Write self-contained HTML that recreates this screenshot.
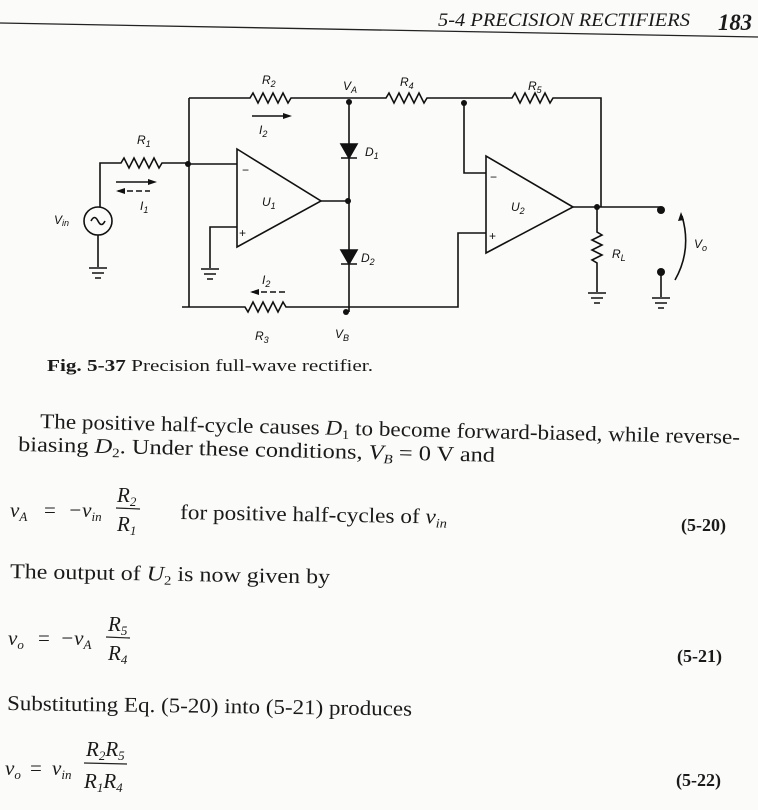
<!DOCTYPE html>
<html><head><meta charset="utf-8"><style>
html,body{margin:0;padding:0;background:#fbfbfa;}
svg{display:block}
.t{font-family:"Liberation Serif",serif;fill:#1a1a1a}
.s{font-family:"Liberation Sans",sans-serif;font-style:italic;fill:#111}
</style></head><body>
<svg width="758" height="810" viewBox="0 0 758 810" xmlns="http://www.w3.org/2000/svg">
<rect width="758" height="810" fill="#fbfbfa"/>
<!-- header -->
<line x1="0" y1="23" x2="758" y2="37" stroke="#222" stroke-width="1.3"/>
<text class="t" x="438" y="26" font-size="19" font-style="italic" textLength="252" lengthAdjust="spacingAndGlyphs">5-4  PRECISION RECTIFIERS</text>
<text class="t" x="718" y="30" font-size="23" font-style="italic" font-weight="bold" textLength="34" lengthAdjust="spacingAndGlyphs">183</text>

<g fill="none" stroke="#111" stroke-width="1.6">
<circle cx="98" cy="221" r="14"/>
<path d="M91 221 q3.5 -7 7 0 q3.5 7 7 0"/>
<path d="M100 207 V163 H121 l3 -5 l5 10 l5 -10 l5 10 l5 -10 l5 10 l5 -10 l5 10 l3 -5 H188"/>
<path d="M98 235 V267 M89 268 H107 M92 273 H104 M95 278 H101"/>
<path d="M188 164 H237 M189 98 V307 M189 98 H250 l3 -5 l5 10 l5 -10 l5 10 l5 -10 l5 10 l5 -10 l5 10 l3 -5 H386 l3 -5 l5 10 l5 -10 l5 10 l5 -10 l5 10 l5 -10 l5 10 l3 -5 H512 l3 -5 l5 10 l5 -10 l5 10 l5 -10 l5 10 l5 -10 l5 10 l3 -5 H601 V207"/>
<path d="M237 149 V247 L321 201 Z"/>
<path d="M237 227 H210 V268 M201 269 H219 M204 274 H216 M207 279 H213"/>
<path d="M321 201 H348 M349 102 V312"/>
<path d="M341 144 H357 L349 158 Z M341 158 H357" fill="#111"/>
<path d="M341 250 H357 L349 264 Z M341 264 H357" fill="#111"/>
<path d="M182 307 H245 l3 5 l5 -10 l5 10 l5 -10 l5 10 l5 -10 l5 10 l5 -10 l3 5 H458 V233 H486"/>
<path d="M464 103 V173 H486"/>
<path d="M486 156 V253 L573 207 Z"/>
<path d="M573 207 H661"/>
<path d="M597 207 V232 l5 3 l-10 5 l10 5 l-10 5 l10 5 l-10 5 l5 3 V292 M588 293 H606 M591 298 H603 M594 303 H600"/>
<path d="M661 272 V297 M652 298 H670 M655 303 H667 M658 308 H664"/>
<path d="M675 280 Q692 250 682 216"/>
<path d="M252 116 H285"/><path d="M116 182 H150"/>
<path d="M118 191 H150" stroke-dasharray="6 3"/>
<path d="M252 292 H285" stroke-dasharray="6 3"/>
</g>
<g fill="#111">
<circle cx="188" cy="164" r="3"/><circle cx="349" cy="102" r="3"/><circle cx="464" cy="103" r="3"/>
<circle cx="348" cy="201" r="3"/><circle cx="346" cy="312" r="3"/><circle cx="597" cy="207" r="3"/>
<circle cx="661" cy="210" r="4"/><circle cx="661" cy="272" r="4"/>
<path d="M292 116 l-9 -3 v6 Z"/><path d="M157 182 l-9 -3 v6 Z"/>
<path d="M116 191 l9 -3 v6 Z"/><path d="M250 292 l9 -3 v6 Z"/>
<path d="M681 212 l-3 9 l6 -1 Z"/>
</g>
<g class="s" font-size="12">
<text x="262" y="84">R<tspan font-size="9" dy="3">2</tspan></text>
<text x="343" y="90">V<tspan font-size="9" dy="3">A</tspan></text>
<text x="400" y="86">R<tspan font-size="9" dy="3">4</tspan></text>
<text x="528" y="90">R<tspan font-size="9" dy="3">5</tspan></text>
<text x="259" y="134">I<tspan font-size="9" dy="3">2</tspan></text>
<text x="137" y="144">R<tspan font-size="9" dy="3">1</tspan></text>
<text x="140" y="210">I<tspan font-size="9" dy="3">1</tspan></text>
<text x="262" y="206">U<tspan font-size="9" dy="3">1</tspan></text>
<text x="365" y="156">D<tspan font-size="9" dy="3">1</tspan></text>
<text x="361" y="262">D<tspan font-size="9" dy="3">2</tspan></text>
<text x="262" y="284">I<tspan font-size="9" dy="3">2</tspan></text>
<text x="255" y="340">R<tspan font-size="9" dy="3">3</tspan></text>
<text x="335" y="338">V<tspan font-size="9" dy="3">B</tspan></text>
<text x="511" y="211">U<tspan font-size="9" dy="3">2</tspan></text>
<text x="612" y="258">R<tspan font-size="9" dy="3">L</tspan></text>
<text x="694" y="248">V<tspan font-size="9" dy="3">o</tspan></text>
<text x="54" y="224">V<tspan font-size="9" dy="2">in</tspan></text>
<text x="242" y="174" font-style="normal">−</text>
<text x="239" y="237" font-style="normal">+</text>
<text x="490" y="181" font-style="normal">−</text>
<text x="489" y="240" font-style="normal">+</text>
</g>
<text class="t" x="47" y="371" font-size="17" textLength="326" lengthAdjust="spacingAndGlyphs"><tspan font-weight="bold">Fig. 5-37</tspan>   Precision full-wave rectifier.</text>

<g class="t" font-size="21">
<text x="40" y="428" transform="rotate(1.3 40 428)" textLength="700" lengthAdjust="spacingAndGlyphs">The positive half-cycle causes <tspan font-style="italic">D</tspan><tspan font-size="13" dy="4">1</tspan><tspan dy="-4"> to become forward-biased, while reverse-</tspan></text>
<text x="18" y="451" transform="rotate(1.3 18 451)" textLength="477" lengthAdjust="spacingAndGlyphs">biasing <tspan font-style="italic">D</tspan><tspan font-size="13" dy="4">2</tspan><tspan dy="-4">. Under these conditions, </tspan><tspan font-style="italic">V</tspan><tspan font-size="13" dy="4" font-style="italic">B</tspan><tspan dy="-4"> = 0 V and</tspan></text>

<text x="10" y="517" font-style="italic">v<tspan font-size="13" dy="4">A</tspan></text>
<text x="44" y="517">=</text>
<text x="68" y="517" font-style="italic">−v<tspan font-size="13" dy="4">in</tspan></text>
<text x="117" y="502" font-style="italic">R<tspan font-size="13" dy="4">2</tspan></text>
<line x1="116" y1="508" x2="140" y2="509" stroke="#222" stroke-width="1.2"/>
<text x="117" y="531" font-style="italic">R<tspan font-size="13" dy="4">1</tspan></text>
<text x="180" y="519" transform="rotate(1 180 519)" textLength="267" lengthAdjust="spacingAndGlyphs">for positive half-cycles of <tspan font-style="italic">v</tspan><tspan font-size="13" dy="4" font-style="italic">in</tspan></text>
<text x="681" y="531" font-size="18" font-weight="bold">(5-20)</text>

<text x="10" y="578" transform="rotate(1 10 578)" textLength="320" lengthAdjust="spacingAndGlyphs">The output of <tspan font-style="italic">U</tspan><tspan font-size="13" dy="4">2</tspan><tspan dy="-4"> is now given by</tspan></text>

<text x="8" y="645" font-style="italic">v<tspan font-size="13" dy="4">o</tspan></text>
<text x="38" y="645">=</text>
<text x="60" y="645" font-style="italic">−v<tspan font-size="13" dy="4">A</tspan></text>
<text x="108" y="631" font-style="italic">R<tspan font-size="13" dy="4">5</tspan></text>
<line x1="106" y1="637" x2="130" y2="638" stroke="#222" stroke-width="1.2"/>
<text x="108" y="660" font-style="italic">R<tspan font-size="13" dy="4">4</tspan></text>
<text x="677" y="662" font-size="18" font-weight="bold">(5-21)</text>

<text x="7" y="710" transform="rotate(0.8 7 710)" textLength="405" lengthAdjust="spacingAndGlyphs">Substituting Eq. (5-20) into (5-21) produces</text>

<text x="5" y="775" font-style="italic">v<tspan font-size="13" dy="4">o</tspan></text>
<text x="30" y="775">=</text>
<text x="52" y="775" font-style="italic">v<tspan font-size="13" dy="4">in</tspan></text>
<text x="86" y="756" font-style="italic">R<tspan font-size="13" dy="4">2</tspan><tspan dy="-4">R</tspan><tspan font-size="13" dy="4">5</tspan></text>
<line x1="84" y1="763" x2="127" y2="764" stroke="#222" stroke-width="1.2"/>
<text x="84" y="788" font-style="italic">R<tspan font-size="13" dy="4">1</tspan><tspan dy="-4">R</tspan><tspan font-size="13" dy="4">4</tspan></text>
<text x="676" y="786" font-size="18" font-weight="bold">(5-22)</text>
</g>
</svg>
</body></html>
